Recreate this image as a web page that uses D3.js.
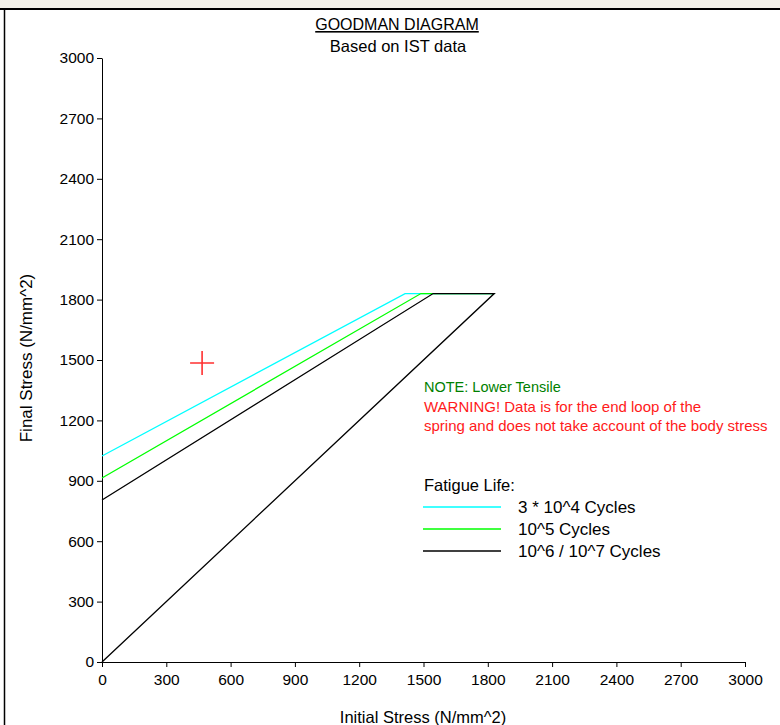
<!DOCTYPE html>
<html>
<head>
<meta charset="utf-8">
<script src="https://cdn.jsdelivr.net/npm/d3@7"></script>
<style>
  body { margin: 0; background: #fff; }
  svg { display: block; font-family: "Liberation Sans", Arial, sans-serif; }
</style>
</head>
<body>
<div id="chart"></div>
<script>
// fatigue life series (N/mm^2)
const seriesNames = ["3 * 10^4 Cycles", "10^5 Cycles", "10^6 / 10^7 Cycles"];
const initial30k = [0, 1414, 1830];
const final30k = [1023, 1830, 1830];
const initial100k = [0, 1488, 1830];
const final100k = [914, 1830, 1830];
const initial1m = [0, 1545, 1830, 0];
const final1m = [805, 1830, 1830, 0];
const axisTicks = [0, 300, 600, 900, 1200, 1500, 1800, 2100, 2400, 2700, 3000];
const testPoint = { initial: 467, final: 1485 };

const W = 780, H = 725;
const margin = { top: 58, right: 35, bottom: 63, left: 102 };
const colors = ["#00ffff", "#00ff00", "#000000"];

const svg = d3.select("#chart").append("svg")
    .attr("width", W)
    .attr("height", H);

// frame
svg.append("rect").attr("x", 0).attr("y", 0).attr("width", W).attr("height", 8)
    .style("fill", "#f4f2ea");
svg.append("line").attr("x1", 0).attr("x2", W).attr("y1", 9).attr("y2", 9)
    .style("stroke", "#000").style("stroke-width", 2);
svg.append("line").attr("x1", 4.5).attr("x2", 4.5).attr("y1", 8).attr("y2", H)
    .style("stroke", "#000").style("stroke-width", 1.5);

const x = d3.scaleLinear().domain([0, 3000]).range([margin.left, W - margin.right]);
const y = d3.scaleLinear().domain([0, 3000]).range([H - margin.bottom, margin.top]);

const xAxis = svg.append("g")
    .attr("transform", `translate(0,${y(0)})`)
    .call(d3.axisBottom(x).tickValues(axisTicks).tickFormat(d3.format("d"))
        .tickSize(5).tickSizeOuter(0).tickPadding(7));
const yAxis = svg.append("g")
    .attr("transform", `translate(${x(0)},0)`)
    .call(d3.axisLeft(y).tickValues(axisTicks).tickFormat(d3.format("d"))
        .tickSize(5).tickSizeOuter(0).tickPadding(3));
[xAxis, yAxis].forEach(a => {
    a.selectAll("text").style("font-size", "15.5px").style("fill", "#000")
        .style("font-family", "\"Liberation Sans\", Arial, sans-serif");
    a.selectAll("line, path").style("stroke", "#000");
});

// titles
svg.append("text").attr("x", 397).attr("y", 30).attr("text-anchor", "middle")
    .style("font-size", "16px").style("text-decoration", "underline")
    .text("GOODMAN DIAGRAM");
svg.append("text").attr("x", 398).attr("y", 52).attr("text-anchor", "middle")
    .style("font-size", "16.5px").text("Based on IST data");

svg.append("text").attr("x", 423).attr("y", 723).attr("text-anchor", "middle")
    .style("font-size", "16.5px").text("Initial Stress (N/mm^2)");
svg.append("text").attr("transform", "translate(32,358) rotate(-90)")
    .attr("text-anchor", "middle").style("font-size", "17px")
    .text("Final Stress (N/mm^2)");

// curves
const series = [
    { name: seriesNames[0], xs: initial30k, ys: final30k },
    { name: seriesNames[1], xs: initial100k, ys: final100k },
    { name: seriesNames[2], xs: initial1m, ys: final1m }
];
const line = d3.line().x(d => x(d[0])).y(d => y(d[1]));
series.forEach((s, i) => {
    svg.append("path")
        .datum(s.xs.map((v, k) => [v, s.ys[k]]))
        .attr("d", line)
        .style("fill", "none")
        .style("stroke", colors[i])
        .style("stroke-width", 1.3);
});

// test point marker
const px = x(testPoint.initial), py = y(testPoint.final);
svg.append("path")
    .attr("d", `M${px - 12},${py}H${px + 12}M${px},${py - 12}V${py + 12}`)
    .style("stroke", "#ff3030").style("stroke-width", 1.6).style("fill", "none");

// notes
svg.append("text").attr("x", 424).attr("y", 392).style("font-size", "14.5px")
    .style("fill", "#008000").text("NOTE: Lower Tensile");
svg.append("text").attr("x", 424).attr("y", 412).style("font-size", "15px")
    .style("fill", "#ff1a1a").text("WARNING! Data is for the end loop of the");
svg.append("text").attr("x", 424).attr("y", 431).style("font-size", "15px")
    .style("fill", "#ff1a1a").text("spring and does not take account of the body stress");

// legend
const legend = svg.append("g").attr("transform", "translate(423,485)");
legend.append("text").attr("x", 1).attr("y", 6).style("font-size", "16.5px").text("Fatigue Life:");
series.forEach((s, i) => {
    const g = legend.append("g").attr("transform", `translate(0,${22 + i * 22})`);
    g.append("line").attr("x1", 0).attr("x2", 78).attr("y1", 0).attr("y2", 0)
        .style("stroke", colors[i]).style("stroke-width", 1.3);
    g.append("text").attr("x", 95).attr("y", 6).style("font-size", "17px").text(s.name);
});
</script>
</body>
</html>
